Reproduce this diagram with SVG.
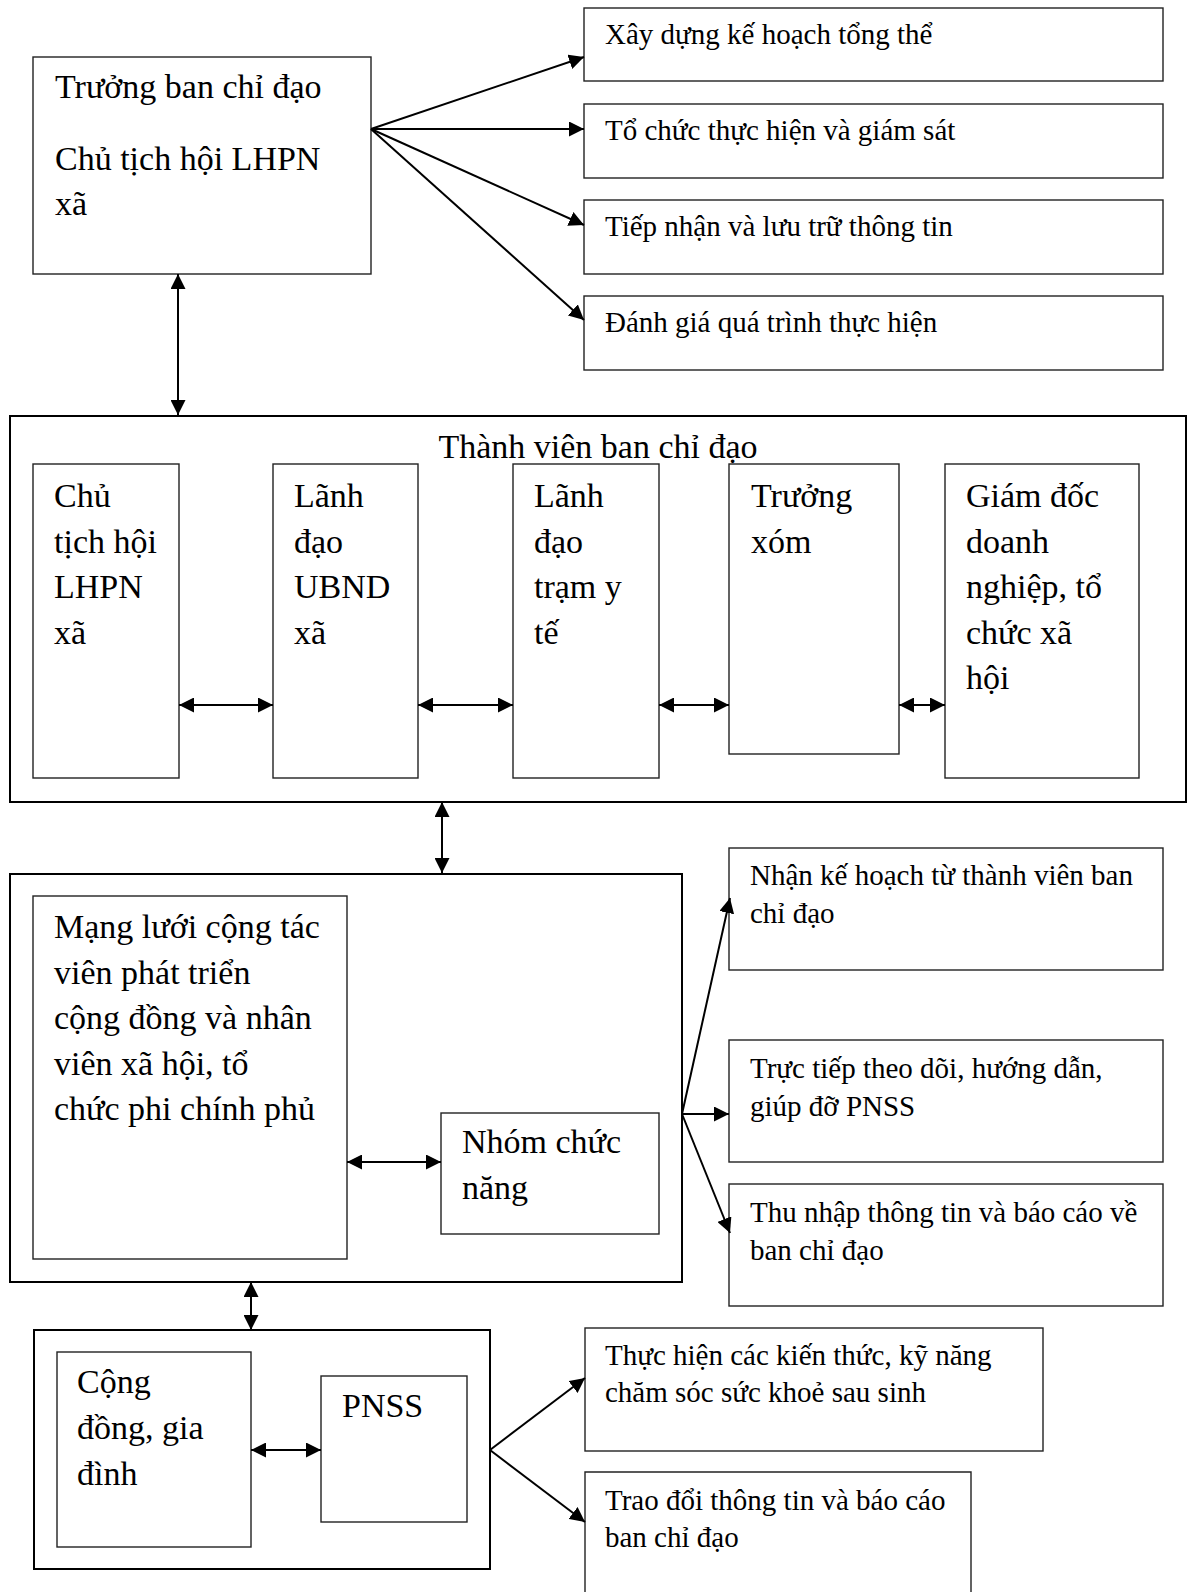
<svg xmlns="http://www.w3.org/2000/svg" width="1194" height="1592" viewBox="0 0 1194 1592">
<style>
.bx{fill:#fff;stroke:#222;stroke-width:1.4}
.ob{fill:#fff;stroke:#000;stroke-width:2}
.L{font-family:"Liberation Serif","Times New Roman",serif;font-size:34px;fill:#000}
.S{font-family:"Liberation Serif","Times New Roman",serif;font-size:29px;fill:#000}
.c{stroke:#000;stroke-width:2;fill:none}
</style>
<defs>
<marker id="ah" markerUnits="userSpaceOnUse" markerWidth="15" markerHeight="15" refX="15" refY="7.5" orient="auto-start-reverse"><path d="M0,0 L15,7.5 L0,15 z" fill="#000"/></marker>
</defs>
<rect width="1194" height="1592" fill="#fff"/>

<g id="truong-ban">
<rect class="bx" x="33" y="57" width="338" height="217"/>
<text class="L" x="55" y="98">Trưởng ban chỉ đạo</text>
<text class="L" x="55" y="170">Chủ tịch hội LHPN</text>
<text class="L" x="55" y="215">xã</text>
</g>

<g id="xay-dung">
<rect class="bx" x="584" y="8" width="579" height="73"/>
<text class="S" x="605" y="44">Xây dựng kế hoạch tổng thể</text>
</g>
<g id="to-chuc">
<rect class="bx" x="584" y="104" width="579" height="74"/>
<text class="S" x="605" y="140">Tổ chức thực hiện và giám sát</text>
</g>
<g id="tiep-nhan">
<rect class="bx" x="584" y="200" width="579" height="74"/>
<text class="S" x="605" y="236">Tiếp nhận và lưu trữ thông tin</text>
</g>
<g id="danh-gia">
<rect class="bx" x="584" y="296" width="579" height="74"/>
<text class="S" x="605" y="332">Đánh giá quá trình thực hiện</text>
</g>

<g id="thanh-vien">
<rect class="ob" x="10" y="416" width="1176" height="386"/>
<text class="L" x="598" y="458" text-anchor="middle">Thành viên ban chỉ đạo</text>
</g>
<g id="tv1">
<rect class="bx" x="33" y="464" width="146" height="314"/>
<text class="L" x="54" y="507">Chủ</text>
<text class="L" x="54" y="552.5">tịch hội</text>
<text class="L" x="54" y="598">LHPN</text>
<text class="L" x="54" y="643.5">xã</text>
</g>
<g id="tv2">
<rect class="bx" x="273" y="464" width="145" height="314"/>
<text class="L" x="294" y="507">Lãnh</text>
<text class="L" x="294" y="552.5">đạo</text>
<text class="L" x="294" y="598">UBND</text>
<text class="L" x="294" y="643.5">xã</text>
</g>
<g id="tv3">
<rect class="bx" x="513" y="464" width="146" height="314"/>
<text class="L" x="534" y="507">Lãnh</text>
<text class="L" x="534" y="552.5">đạo</text>
<text class="L" x="534" y="598">trạm y</text>
<text class="L" x="534" y="643.5">tế</text>
</g>
<g id="tv4">
<rect class="bx" x="729" y="464" width="170" height="290"/>
<text class="L" x="751" y="507">Trưởng</text>
<text class="L" x="751" y="552.5">xóm</text>
</g>
<g id="tv5">
<rect class="bx" x="945" y="464" width="194" height="314"/>
<text class="L" x="966" y="507">Giám đốc</text>
<text class="L" x="966" y="552.5">doanh</text>
<text class="L" x="966" y="598">nghiệp, tổ</text>
<text class="L" x="966" y="643.5">chức xã</text>
<text class="L" x="966" y="689">hội</text>
</g>

<g id="mang-luoi-outer">
<rect class="ob" x="10" y="874" width="672" height="408"/>
</g>
<g id="mang-luoi">
<rect class="bx" x="33" y="896" width="314" height="363"/>
<text class="L" x="54" y="938">Mạng lưới cộng tác</text>
<text class="L" x="54" y="983.5">viên phát triển</text>
<text class="L" x="54" y="1029">cộng đồng và nhân</text>
<text class="L" x="54" y="1074.5">viên xã hội, tổ</text>
<text class="L" x="54" y="1120">chức phi chính phủ</text>
</g>
<g id="nhom-chuc-nang">
<rect class="bx" x="441" y="1113" width="218" height="121"/>
<text class="L" x="462" y="1153">Nhóm chức</text>
<text class="L" x="462" y="1199">năng</text>
</g>

<g id="nhan-ke-hoach">
<rect class="bx" x="729" y="848" width="434" height="122"/>
<text class="S" x="750" y="885">Nhận kế hoạch từ thành viên ban</text>
<text class="S" x="750" y="923">chỉ đạo</text>
</g>
<g id="truc-tiep">
<rect class="bx" x="729" y="1040" width="434" height="122"/>
<text class="S" x="750" y="1078">Trực tiếp theo dõi, hướng dẫn,</text>
<text class="S" x="750" y="1116">giúp đỡ PNSS</text>
</g>
<g id="thu-nhap">
<rect class="bx" x="729" y="1184" width="434" height="122"/>
<text class="S" x="750" y="1222">Thu nhập thông tin và báo cáo về</text>
<text class="S" x="750" y="1260">ban chỉ đạo</text>
</g>

<g id="cong-dong-outer">
<rect class="ob" x="34" y="1330" width="456" height="239"/>
</g>
<g id="cong-dong">
<rect class="bx" x="57" y="1352" width="194" height="195"/>
<text class="L" x="77" y="1393">Cộng</text>
<text class="L" x="77" y="1439">đồng, gia</text>
<text class="L" x="77" y="1485">đình</text>
</g>
<g id="pnss">
<rect class="bx" x="321" y="1376" width="146" height="146"/>
<text class="L" x="342" y="1417">PNSS</text>
</g>

<g id="thuc-hien">
<rect class="bx" x="585" y="1328" width="458" height="123"/>
<text class="S" x="605" y="1365">Thực hiện các kiến thức, kỹ năng</text>
<text class="S" x="605" y="1402">chăm sóc sức khoẻ sau sinh</text>
</g>
<g id="trao-doi">
<path class="bx" d="M585,1600 V1472 H971 V1600"/>
<text class="S" x="605" y="1510">Trao đổi thông tin và báo cáo</text>
<text class="S" x="605" y="1547">ban chỉ đạo</text>
</g>

<g id="connectors">
<line class="c" x1="371" y1="129" x2="584" y2="57" marker-end="url(#ah)"/>
<line class="c" x1="371" y1="129" x2="584" y2="129" marker-end="url(#ah)"/>
<line class="c" x1="371" y1="129" x2="584" y2="225" marker-end="url(#ah)"/>
<line class="c" x1="371" y1="129" x2="584" y2="320" marker-end="url(#ah)"/>
<line class="c" x1="178" y1="274" x2="178" y2="415" marker-start="url(#ah)" marker-end="url(#ah)"/>
<line class="c" x1="179" y1="705" x2="273" y2="705" marker-start="url(#ah)" marker-end="url(#ah)"/>
<line class="c" x1="418" y1="705" x2="513" y2="705" marker-start="url(#ah)" marker-end="url(#ah)"/>
<line class="c" x1="659" y1="705" x2="729" y2="705" marker-start="url(#ah)" marker-end="url(#ah)"/>
<line class="c" x1="899" y1="705" x2="945" y2="705" marker-start="url(#ah)" marker-end="url(#ah)"/>
<line class="c" x1="442" y1="802" x2="442" y2="873" marker-start="url(#ah)" marker-end="url(#ah)"/>
<line class="c" x1="347" y1="1162" x2="441" y2="1162" marker-start="url(#ah)" marker-end="url(#ah)"/>
<line class="c" x1="682" y1="1114" x2="730" y2="898" marker-end="url(#ah)"/>
<line class="c" x1="682" y1="1114" x2="729" y2="1114" marker-end="url(#ah)"/>
<line class="c" x1="682" y1="1114" x2="730" y2="1233" marker-end="url(#ah)"/>
<line class="c" x1="251" y1="1282" x2="251" y2="1330" marker-start="url(#ah)" marker-end="url(#ah)"/>
<line class="c" x1="251" y1="1450" x2="321" y2="1450" marker-start="url(#ah)" marker-end="url(#ah)"/>
<line class="c" x1="490" y1="1450" x2="585" y2="1378" marker-end="url(#ah)"/>
<line class="c" x1="490" y1="1450" x2="585" y2="1522" marker-end="url(#ah)"/>
</g>
</svg>
